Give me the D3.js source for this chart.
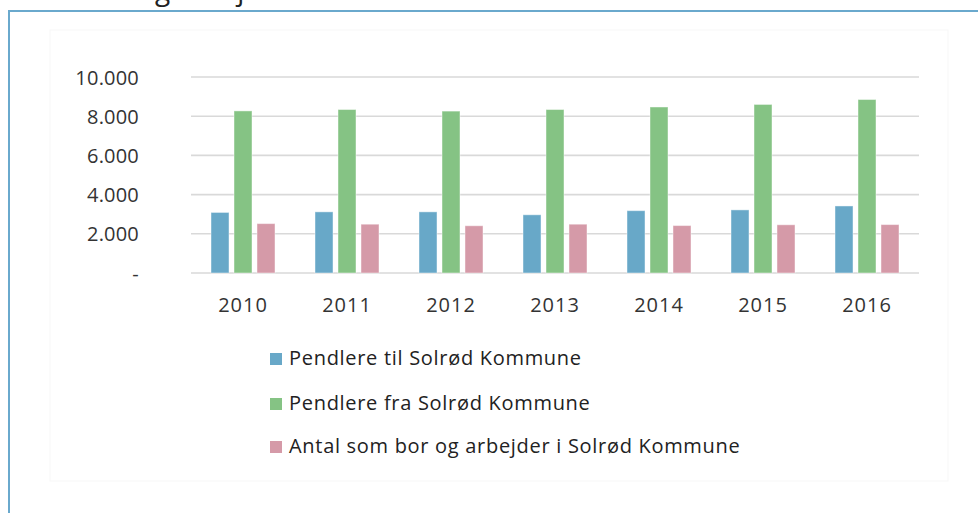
<!DOCTYPE html>
<html>
<head>
<meta charset="utf-8">
<script src="https://cdn.jsdelivr.net/npm/d3@7"></script>
<style>
  html, body { margin: 0; padding: 0; background: #fff; }
  svg { display: block; font-family: "Open Sans", "Noto Sans", sans-serif; }
</style>
</head>
<body>
<svg id="chart" width="978" height="513"></svg>
<script>
// data
const years = ["2010", "2011", "2012", "2013", "2014", "2015", "2016"];
const seriesNames = [
  "Pendlere til Solrød Kommune",
  "Pendlere fra Solrød Kommune",
  "Antal som bor og arbejder i Solrød Kommune"
];
const pendlereTil = [3090, 3120, 3120, 2970, 3180, 3220, 3420];
const pendlereFra = [8270, 8340, 8260, 8340, 8470, 8600, 8850];
const borOgArbejder = [2520, 2490, 2410, 2490, 2420, 2460, 2470];
const yTicks = [0, 2000, 4000, 6000, 8000, 10000];

const colors = ["#68a8c8", "#85c384", "#d59aa8"];
const allSeries = [pendlereTil, pendlereFra, borOgArbejder];

const svg = d3.select("#chart");

// title above the frame, cut by the top edge (only descenders show)
svg.append("text")
  .attr("x", 14).attr("y", 0)
  .attr("font-size", 28).attr("fill", "#222")
  .text("Pendlere og arbejde");

// outer blue frame
svg.append("path")
  .attr("d", "M9,513 L9,11 L978,11")
  .attr("fill", "none")
  .attr("stroke", "#6aa9cd")
  .attr("stroke-width", 2);

// faint chart area box
svg.append("rect")
  .attr("x", 50).attr("y", 30)
  .attr("width", 898).attr("height", 451)
  .attr("fill", "none")
  .attr("stroke", "#f7f7f7");

// scales
const x = d3.scaleBand()
  .domain(years)
  .range([191, 919])
  .paddingInner(40 / 104)
  .paddingOuter(20 / 104);

const xs = d3.scaleBand()
  .domain(d3.range(3))
  .range([0, x.bandwidth()])
  .paddingInner(0.217);

const y = d3.scaleLinear().domain([0, 10000]).range([273, 77]);

const fmt = d3.formatLocale({ decimal: ",", thousands: ".", grouping: [3], currency: ["", " kr."] }).format(",d");

// gridlines
svg.append("g")
  .selectAll("line")
  .data(yTicks)
  .join("line")
  .attr("x1", 191).attr("x2", 919)
  .attr("y1", d => y(d)).attr("y2", d => y(d))
  .attr("stroke", "#d9d9d9")
  .attr("stroke-width", 1.6);

// y axis labels
const yAxis = d3.axisLeft(y)
  .tickValues(yTicks)
  .tickSize(0)
  .tickPadding(0)
  .tickFormat(d => d === 0 ? "-" : fmt(d));

svg.append("g")
  .attr("transform", "translate(139,0)")
  .call(yAxis)
  .call(g => g.select(".domain").remove())
  .call(g => g.selectAll("text")
    .attr("font-size", 20)
    .attr("font-family", "Open Sans, sans-serif")
    .attr("fill", "#333")
    .attr("letter-spacing", 0.2)
    .attr("dy", "0.35em"));

// x axis labels
const xAxis = d3.axisBottom(x).tickSize(0).tickPadding(0);
svg.append("g")
  .attr("transform", "translate(0,297)")
  .call(xAxis)
  .call(g => g.select(".domain").remove())
  .call(g => g.selectAll("text")
    .attr("font-size", 20)
    .attr("font-family", "Open Sans, sans-serif")
    .attr("fill", "#333")
    .attr("letter-spacing", 1)
    .attr("dy", "0.75em"));

// bars
const groups = svg.append("g")
  .selectAll("g")
  .data(years)
  .join("g")
  .attr("transform", d => `translate(${x(d)},0)`);

groups.selectAll("rect")
  .data((d, i) => allSeries.map((s, k) => ({ k, v: s[i] })))
  .join("rect")
  .attr("x", d => xs(d.k))
  .attr("y", d => y(d.v))
  .attr("width", xs.bandwidth())
  .attr("height", d => y(0) - y(d.v))
  .attr("fill", d => colors[d.k])
  .attr("stroke", "#fff")
  .attr("stroke-opacity", 0.45)
  .attr("stroke-width", 1);

// legend
const legendY = [365, 410, 453];
const legend = svg.append("g")
  .selectAll("g")
  .data(seriesNames)
  .join("g")
  .attr("transform", (d, i) => `translate(270,${legendY[i]})`);

legend.append("rect")
  .attr("x", 0).attr("y", -12)
  .attr("width", 12).attr("height", 12)
  .attr("fill", (d, i) => colors[i]);

legend.append("text")
  .attr("x", 19).attr("y", 0)
  .attr("font-size", 20)
  .attr("letter-spacing", 0.7)
  .attr("fill", "#222")
  .text(d => d);
</script>
</body>
</html>
